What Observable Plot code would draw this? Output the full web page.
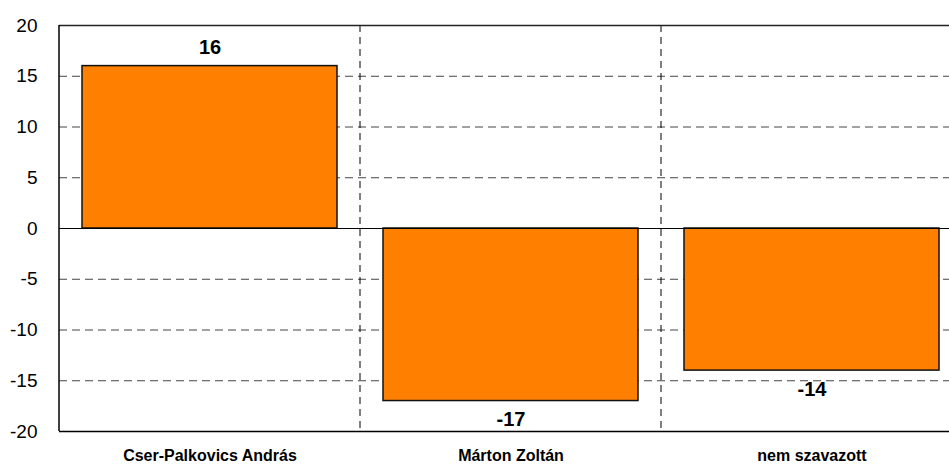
<!DOCTYPE html>
<html>
<head>
<meta charset="utf-8">
<script src="https://cdn.jsdelivr.net/npm/d3@7"></script>
<script src="https://cdn.jsdelivr.net/npm/@observablehq/plot@0.6"></script>
<style>
  html, body { margin: 0; padding: 0; background: #fff; }
  svg { font-family: "Liberation Sans", Arial, sans-serif; }
</style>
</head>
<body>
<div id="chart"></div>
<script>
const categories = ["Cser-Palkovics András", "Márton Zoltán", "nem szavazott"];
const values = [16, -17, -14];
const yTicks = [-20, -15, -10, -5, 0, 5, 10, 15, 20];
const gridTicks = [-15, -10, -5, 5, 10, 15];

const data = categories.map((c, i) => ({category: c, value: values[i]}));

const boundaries = (index, scales, vals, dims) => {
  const g = d3.create("svg:g");
  for (const c of categories.slice(1)) {
    const x = scales.x(c);
    g.append("line")
      .attr("x1", x).attr("x2", x)
      .attr("y1", dims.marginTop).attr("y2", dims.height - dims.marginBottom)
      .attr("stroke", "#000").attr("stroke-width", 1)
      .attr("stroke-dasharray", "7,5");
  }
  return g.node();
};

const chart = Plot.plot({
  width: 949,
  height: 465,
  marginTop: 25,
  marginBottom: 34,
  marginLeft: 59,
  marginRight: 0,
  x: {domain: categories, range: [59, 962], padding: 0, label: null},
  y: {domain: [-20, 20], label: null},
  marks: [
    Plot.ruleY(gridTicks, {stroke: "#444", strokeWidth: 1, strokeDasharray: "8,5", strokeOpacity: 1}),
    boundaries,
    Plot.barY(data, {x: "category", y: "value", fill: "#FF8000", stroke: "#111", strokeWidth: 1.5, insetLeft: 23, insetRight: 23}),
    Plot.ruleY([0], {stroke: "#000", strokeWidth: 1.2}),
    Plot.ruleY([20], {stroke: "#222", strokeWidth: 1.5}),
    Plot.ruleY([-20], {stroke: "#000", strokeWidth: 1.5}),
    Plot.text(data.filter(d => d.value > 0), {x: "category", y: "value", text: d => String(d.value), lineAnchor: "bottom", dy: -12, fontSize: 20, fontWeight: "bold", fill: "#000"}),
    Plot.text(data.filter(d => d.value < 0), {x: "category", y: "value", text: d => String(d.value), lineAnchor: "top", dy: 11, fontSize: 20, fontWeight: "bold", fill: "#000"}),
    Plot.axisY({ticks: yTicks, tickSize: 0, tickPadding: 22, fontSize: 19, tickFormat: d => String(d), fill: "#000"}),
    Plot.axisX({tickSize: 0, tickPadding: 18, fontSize: 16, fontWeight: "bold", fill: "#000", label: null})
  ]
});

// left axis line
const svg = d3.select(chart);
svg.append("line")
  .attr("x1", 59).attr("x2", 59).attr("y1", 25).attr("y2", 431)
  .attr("stroke", "#000").attr("stroke-width", 1.5);

document.getElementById("chart").appendChild(chart);
</script>
</body>
</html>
